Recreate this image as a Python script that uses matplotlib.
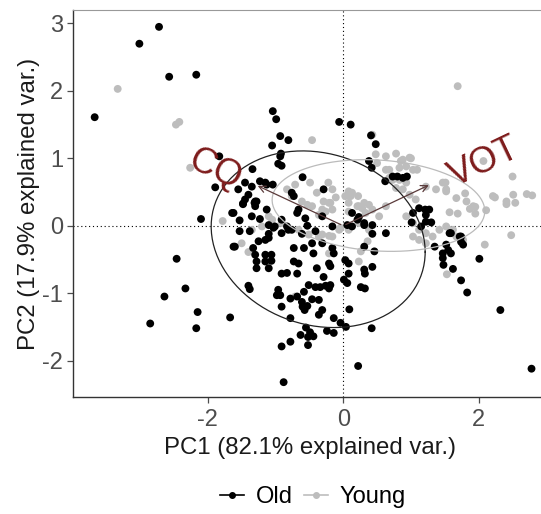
import numpy as np
import matplotlib.pyplot as plt
from matplotlib.lines import Line2D

plt.rcParams['font.family'] = ['Liberation Sans', 'DejaVu Sans']
plt.rcParams['axes.unicode_minus'] = False

#--------------------------------------------#
# data (PC1, PC2 scores)
old_x = [-2.72, -3.01, -2.57, -2.17, -3.67, -1.83, -1.89,
         -2.10, -1.64, -1.62, -2.46, -2.33, -2.64, -2.15, -2.85, -2.17, -1.67,
         2.78, 2.32, 1.83, 1.74, 2.01, 1.62, 1.48, 1.47, 1.55, 1.59, 1.74, 1.74, 1.59, 1.35,
         1.01, 1.15, 1.30, 1.21, 1.03, 0.80, 0.94,
         -1.04, -0.99, -0.06, 0.11, -0.93, -0.81, -1.05, -0.92, -0.93, -0.96, -0.91, -1.34,
         -1.45, -1.23, -1.13, -1.04, -0.60, -1.40, -1.28, -1.31, -1.48, -0.76, -0.73, -0.29,
         0.41, 0.48, 0.38, 0.42, 0.62,
         -1.48, -1.30, -1.62, -1.53, -1.35, -1.23, -1.13, -1.10, -1.03, -0.91, -0.83, -0.76,
         -0.68, -0.66, -0.53, -0.41, -0.31, -0.16, 0.06, 0.21, 0.31, 0.43, 0.63, -1.53, -1.38,
         -1.60, -1.25, -1.15, -1.10, -1.33, -1.30, -1.15, -1.06, -1.28, -1.15, -1.06, -1.28,
         -1.10, -0.73, -0.58, -0.46, -0.31, -0.44, -0.16, -0.14, -0.73, -0.66, -0.21, -0.19,
         -0.39, 0.03, 0.08, 0.31, 0.46, 0.43, 0.31, 0.32, 0.08, -0.91, -0.83, -0.68, -0.29,
         0.01, 0.06, -1.40, -1.38, -0.51, -0.41, -0.34, -0.26, -0.21, -0.19, 0.26, 0.32,
         -0.58, -0.96, -0.93, -0.98, -0.78, -0.68, -0.46, -0.36, -0.61, -0.60, -0.53, -0.57,
         -0.91, -0.31, -0.36, 0.09, -0.78, -0.14, -0.04, 0.04, 0.42, -0.55, -0.49, -0.44,
         -0.63, -0.52, -0.24, -0.14, -0.78, -0.91, -0.52, 0.22, -0.88,
         0.73, 0.88, 1.12, 1.22, 1.27, 1.22, 1.57, 1.72, 1.52, 1.77, 1.47, 0.13, 0.23, 0.31,
         0.13, 0.43, -0.56, -0.81, -0.61, -1.10, -1.01, -0.91, -1.30, -1.45, -1.15, -1.35, -1.55]
old_y = [2.95, 2.70, 2.21, 2.24, 1.61, 1.03, 0.57,
         0.10, 0.19, -0.31, -0.49, -0.93, -1.05, -1.28, -1.45, -1.52, -1.36,
         -2.12, -1.25, -0.99, -0.81, -0.49, -0.64, -0.58, -0.41, -0.36, -0.41, -0.16, -0.24, -0.11, -0.31,
         0.05, -0.01, 0.05, 0.24, 0.19, 0.73, 0.73,
         1.70, 1.58, 1.54, 1.50, 1.33, 1.27, 1.19, 1.07, 1.03, 0.92, 0.89, 0.84,
         0.64, 0.66, 0.61, 0.61, 0.72, 0.46, 0.36, 0.34, 0.32, 0.49, 0.44, 0.54,
         1.34, 1.21, 0.96, 0.86, 0.66,
         0.33, 0.36, 0.19, 0.08, 0.14, 0.10, 0.24, 0.01, -0.03, -0.11, -0.01, -0.06,
         0.19, 0.24, 0.00, -0.08, 0.14, -0.01, 0.01, 0.09, 0.01, 0.01, -0.11, -0.08, -0.08,
         -0.31, -0.23, -0.21, -0.18, -0.33, -0.43, -0.43, -0.43, -0.53, -0.53, -0.52, -0.63,
         -0.63, -0.33, -0.33, -0.26, -0.26, -0.41, -0.33, -0.41, -0.53, -0.56, -0.56, -0.60,
         -0.63, -0.51, -0.56, -0.31, -0.38, -0.61, -0.65, -0.71, -0.71, -0.71, -0.70, -0.71, -0.76,
         -0.80, -0.85, -0.89, -0.94, -0.88, -0.91, -0.91, -0.89, -0.93, -0.88, -0.91, -0.93,
         -0.98, -0.95, -1.03, -1.03, -1.08, -1.05, -1.09, -1.10, -1.13, -1.20, -1.19, -1.25,
         -1.20, -1.25, -1.32, -1.24, -1.37, -1.37, -1.44, -1.50, -1.52, -1.51, -1.58, -1.64,
         -1.62, -1.65, -1.56, -1.59, -1.72, -1.79, -1.77, -2.08, -2.32,
         0.73, 0.71, 0.26, 0.16, 0.24, 0.06, -0.11, -0.16, -0.28, -0.28, -0.48, 0.19, 0.13, 0.04,
         -0.01, -0.12, 0.11, -0.06, -0.12, -0.12, -0.01, 0.09, 0.29, 0.39, 0.64, 0.58, 0.54]

young_x = [-3.33, -2.47, -2.42, -2.26, -1.78,
           1.53, 2.09, 2.48, 2.41, 2.54, 1.57, 1.69, 1.87, 1.95, 1.95, 2.11,
           1.69, 2.07, 2.50, 2.24, 2.71, 2.79, 1.80, 1.51, 1.52, 0.78, 1.00, 0.85, 1.09,
           -0.46, 0.48, 0.50,
           -0.71, -0.49, -0.22, -0.16, -0.83, -0.11, 0.08, 0.11, 0.22, 0.38, 0.31, 0.63, 0.68,
           -0.39, -0.29, -0.21, -0.53,
           -1.10, -1.50, -1.40, -0.71, -0.21, 0.26, 0.23, -0.16, -0.21, -0.31, -0.51, -0.04,
           0.08, 0.08, 0.21, 0.28, -0.19, -0.16, -0.26, -0.36, 0.38, 0.36,
           0.43, 0.63, 0.88, 0.98, 0.68, 0.83, 0.93, 1.03, 0.73, 0.83, 0.93, 0.78, 0.88, 0.98,
           1.07, 1.22, 1.37, 1.47, 1.52, 1.67, 1.82, 1.92, 2.21, 2.41, 2.51,
           0.93, 1.03, 1.12, 1.22, 1.03, 1.12, 1.22, 1.32, 1.42, 1.52, 1.62, 1.67, 1.77,
           -0.76, -0.61, -0.46, -0.31, 0.03, 0.13, 0.23, 0.33, 0.43, 0.53, 0.63, 0.23, 0.08,
           -0.06, -0.36, -0.66, -0.91, -1.05, -1.20, -1.35]
young_y = [2.03, 1.50, 1.54, 0.86, 0.07,
           -0.72, -0.28, -0.14, 0.32, 0.34, 0.20, 0.18, 0.25, 0.28, 0.18, 0.23,
           2.07, 0.96, 0.73, 0.42, 0.47, 0.45, 0.48, 0.64, 0.54, 1.07, 1.00, 0.96, 0.83,
           1.27, 1.06, 0.93,
           0.61, 0.64, 0.64, 0.54, 0.54, 0.42, 0.51, 0.44, 0.44, 0.31, 0.34, 0.83, 0.71,
           0.49, 0.36, 0.34, 0.31,
           0.14, -0.26, -0.39, -1.05, -0.41, -0.38, -0.53, -0.16, -0.15, -0.13, -0.13, -0.03,
           0.34, 0.21, 0.29, 0.26, 0.34, 0.24, 0.21, 0.16, -0.06, -0.23,
           1.35, 1.03, 0.98, 1.01, 0.83, 0.86, 0.88, 0.83, 0.68, 0.68, 0.64, 0.56, 0.54, 0.46,
           0.39, 0.58, 0.54, 0.64, 0.51, 0.41, 0.36, 0.29, 0.44, 0.36, 0.46,
           0.14, 0.04, -0.06, -0.11, -0.16, -0.21, -0.26, -0.16, -0.06, -0.01, -0.06, -0.16, -0.21,
           0.44, 0.36, 0.29, 0.24, 0.44, 0.49, 0.29, 0.19, 0.24, 0.14, 0.29, 0.04, -0.06,
           -0.06, -0.16, -0.06, 0.04, 0.09, -0.01, -0.06]

# normal-probability ellipses: centre, sd in x, sd in y, covariance
ell_old = dict(cx=-0.37, cy=-0.20, sx=1.58, sy=1.31, sxy=-0.30)
ell_young = dict(cx=0.52, cy=0.30, sx=1.57, sy=0.68, sxy=-0.13)

# variable loadings
var_names = ['CQ', 'VOT']
var_x = [-1.30, 1.30]
var_y = [0.61, 0.62]

#--------------------------------------------#
def ellipse_pts(cx, cy, sx, sy, sxy, n=200):
    cov = np.array([[sx**2, sxy], [sxy, sy**2]])
    L = np.linalg.cholesky(cov)
    t = np.linspace(0, 2*np.pi, n)
    circ = np.vstack([np.cos(t), np.sin(t)])
    e = L @ circ
    return cx + e[0], cy + e[1]


fig = plt.figure(figsize=(5.41, 5.14), dpi=100)
ax = fig.add_axes([73/541, 1-397/514, 1-73/541+0.01, 387/514])

ax.axhline(0, color='black', lw=0.8, ls=(0, (1, 2.5)), zorder=1)
ax.axvline(0, color='black', lw=0.8, ls=(0, (1, 2.5)), zorder=1)

ax.scatter(young_x, young_y, s=32, color='#bdbdbd', edgecolors='none', zorder=2)
ax.scatter(old_x, old_y, s=32, color='black', edgecolors='none', zorder=3)

ex, ey = ellipse_pts(**ell_old)
ax.plot(ex, ey, color='#222222', lw=0.9, zorder=4)
ex, ey = ellipse_pts(**ell_young)
ax.plot(ex, ey, color='#bbbbbb', lw=0.9, zorder=4)

arrow_col = '#7d1c1c'
label_pos = [(-1.89, 0.83), (2.08, 0.94)]
for name, vx, vy, (lx, ly) in zip(var_names, var_x, var_y, label_pos):
    ax.annotate('', xy=(vx, vy), xytext=(0, 0),
                arrowprops=dict(arrowstyle='->', color='#5a3a3a', lw=0.9,
                                mutation_scale=12), zorder=5)
    ang = np.degrees(np.arctan(vy / vx))
    ax.text(lx, ly, name, color=arrow_col, fontsize=26, rotation=ang,
            rotation_mode='anchor', ha='center', va='center', zorder=6)

ax.set_xlim(-3.99, 3.0)
ax.set_ylim(-2.54, 3.20)
ax.set_xticks([-2, 0, 2])
ax.set_yticks([-2, -1, 0, 1, 2, 3])
ax.tick_params(labelsize=17, labelcolor='#4d4d4d', color='#4d4d4d', length=4, width=0.9, pad=3)
ax.tick_params(axis='x', pad=5)
ax.set_xlabel('PC1 (82.1% explained var.)', fontsize=17.3, color='#1a1a1a', labelpad=4)
ax.set_ylabel('PC2 (17.9% explained var.)', fontsize=17.3, color='#1a1a1a', labelpad=2)
for side in ['left', 'bottom']:
    ax.spines[side].set_color('#333333')
    ax.spines[side].set_linewidth(1.0)
ax.spines['top'].set_color('#999999')
ax.spines['right'].set_visible(False)

handles = [Line2D([0], [0], color='black', marker='o', markersize=4, lw=1.2),
           Line2D([0], [0], color='#bdbdbd', marker='o', markersize=4, lw=1.2)]
fig.legend(handles, ['Old', 'Young'], loc='center', bbox_to_anchor=(313/541, 1-497/514),
           ncol=2, frameon=False, fontsize=17, handlelength=1.0, handletextpad=0.5,
           columnspacing=0.5)

fig.savefig('out.png', dpi=100)
